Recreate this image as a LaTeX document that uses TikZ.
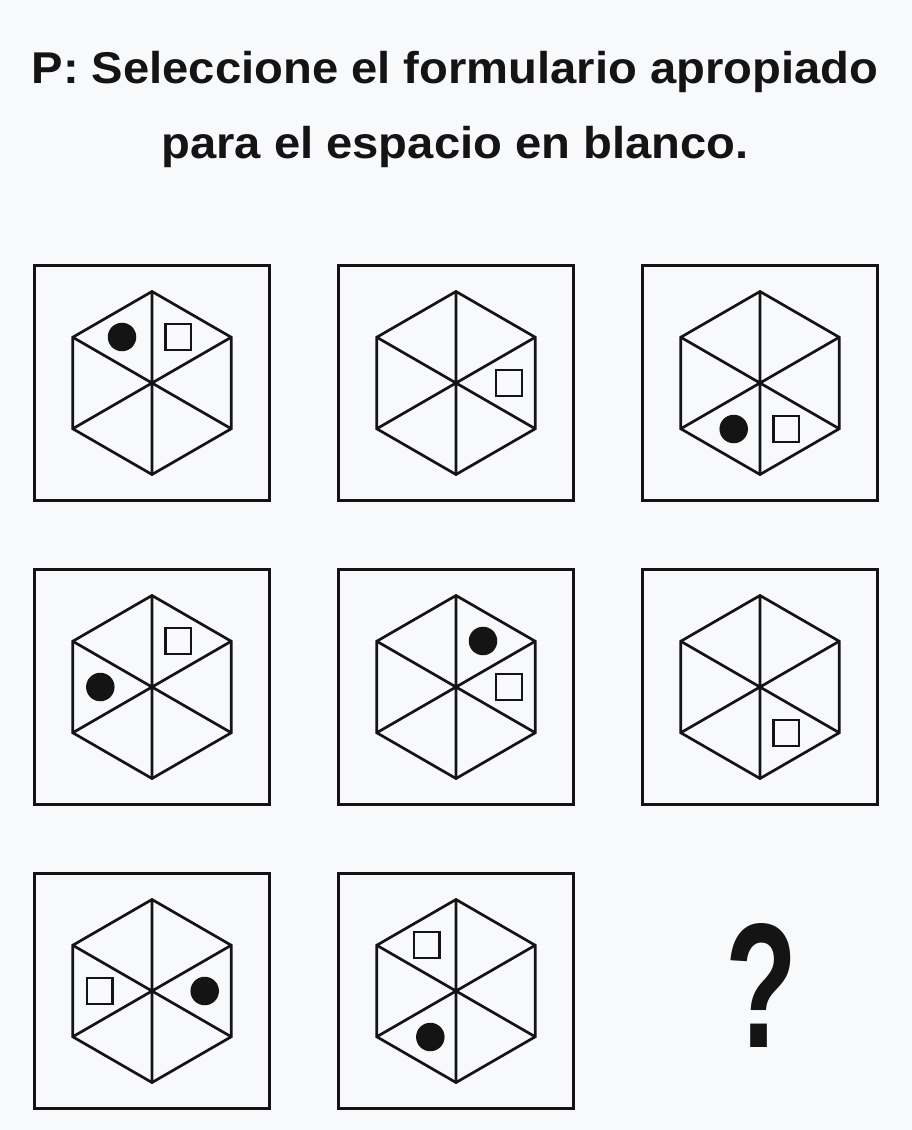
\documentclass[tikz,border=0pt]{standalone}
\usepackage{fontspec}
\setmainfont{Liberation Sans}
\usetikzlibrary{calc}
\definecolor{bg}{HTML}{F8F9FB}
\definecolor{ink}{HTML}{141414}
\newcommand\hexfig[1]{%
  \foreach \a [count=\i] in {90,30,-30,-90,-150,150}
    \coordinate (#1-\i) at ($(#1)+(\a:91.5pt)$);
  \draw[hexline] (#1-1) -- (#1-2) -- (#1-3) -- (#1-4) -- (#1-5) -- (#1-6) -- cycle;
  \draw[hexline] (#1-1) -- (#1-4) (#1-2) -- (#1-5) (#1-3) -- (#1-6);
}
\begin{document}
\begin{tikzpicture}[x=1pt,y=-1pt,
  panel/.style={draw=ink, line width=2.8pt, minimum width=235.2pt, minimum height=235.2pt, inner sep=0pt},
  hexline/.style={draw=ink, line width=2.7pt, line join=miter},
  dot/.style={circle, fill=ink, minimum size=28.5pt, inner sep=0pt},
  sq/.style={draw=ink, line width=2.4pt, minimum size=25.6pt, inner sep=0pt},
  title/.style={font=\fontsize{44.5}{52}\selectfont\bfseries, text=ink, anchor=base, inner sep=0pt}]
\fill[bg] (0,0) rectangle (912,1130);
\useasboundingbox (0,0) rectangle (912,1130);

\node[title] (t1) at (455,83.5) {\scalebox{1.06}[1]{P: Seleccione el formulario apropiado}};
\node[title] (t2) at (455,158.5) {\scalebox{1.06}[1]{para el espacio en blanco.}};

% panels
\node[panel] (p11) at (152,383) {};
\node[panel] (p12) at (456,383) {};
\node[panel] (p13) at (760,383) {};
\node[panel] (p21) at (152,687) {};
\node[panel] (p22) at (456,687) {};
\node[panel] (p23) at (760,687) {};
\node[panel] (p31) at (152,991) {};
\node[panel] (p32) at (456,991) {};

\foreach \p in {p11,p12,p13,p21,p22,p23,p31,p32}{\hexfig{\p}}

% row 1
\node[dot] (d11) at ($(p11)+(-30,-46)$) {};
\node[sq]  (s11) at ($(p11)+(26.3,-46)$) {};
\node[sq]  (s12) at ($(p12)+(53,0)$) {};
\node[dot] (d13) at ($(p13)+(-26.3,46)$) {};
\node[sq]  (s13) at ($(p13)+(26.3,46)$) {};
% row 2
\node[sq]  (s21) at ($(p21)+(26.3,-46)$) {};
\node[dot] (d21) at ($(p21)+(-51.7,0)$) {};
\node[dot] (d22) at ($(p22)+(27,-46)$) {};
\node[sq]  (s22) at ($(p22)+(53,0)$) {};
\node[sq]  (s23) at ($(p23)+(26.3,46)$) {};
% row 3
\node[sq]  (s31) at ($(p31)+(-52.3,0)$) {};
\node[dot] (d31) at ($(p31)+(52.7,0)$) {};
\node[sq]  (s32) at ($(p32)+(-29.2,-46)$) {};
\node[dot] (d32) at ($(p32)+(-25.7,46)$) {};

% question mark
\node[anchor=base, inner sep=0pt, text=ink] (q) at (761,1047)
  {\resizebox{72pt}{124pt}{\fontsize{100}{100}\selectfont\bfseries ?}};
\end{tikzpicture}
\end{document}
